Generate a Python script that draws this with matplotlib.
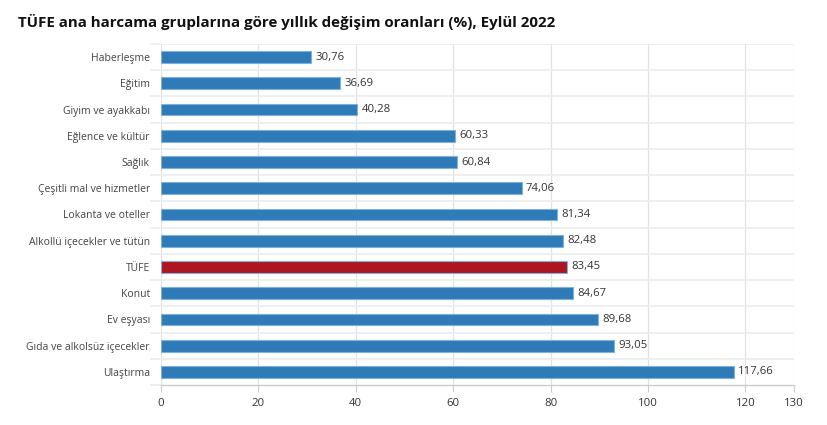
import matplotlib
matplotlib.use("Agg")
import matplotlib.pyplot as plt

title = "TÜFE ana harcama gruplarına göre yıllık değişim oranları (%), Eylül 2022"
categories = ["Haberleşme", "Eğitim", "Giyim ve ayakkabı", "Eğlence ve kültür", "Sağlık",
              "Çeşitli mal ve hizmetler", "Lokanta ve oteller", "Alkollü içecekler ve tütün",
              "TÜFE", "Konut", "Ev eşyası", "Gıda ve alkolsüz içecekler", "Ulaştırma"]
values = [30.76, 36.69, 40.28, 60.33, 60.84, 74.06, 81.34, 82.48, 83.45, 84.67, 89.68, 93.05, 117.66]
xticks = [0, 20, 40, 60, 80, 100, 120, 130]

plt.rcParams['font.family'] = ['Open Sans', 'DejaVu Sans']

fig = plt.figure(figsize=(8.28, 4.25), dpi=100)
ax = fig.add_axes([0.1944, 0.0941, 0.959 - 0.1944, 0.8965 - 0.0941])

n = len(categories)
ypos = list(range(n))
colors = ['#ad1520' if c == "TÜFE" else '#2f7bb8' for c in categories]
ax.barh(ypos, values, height=0.45, color=colors, edgecolor='#7fb1df', linewidth=0.8, zorder=3)

for y, v in zip(ypos, values):
    ax.text(v + 0.9, y, f"{v:.2f}".replace('.', ','), va='center', ha='left',
            fontsize=8.2, color='#333333', zorder=4)

ax.set_xlim(0, 130)
ax.set_ylim(n - 0.5, -0.5)
ax.set_yticks(ypos)
ax.set_yticklabels(categories, fontsize=7.5, color='#444444')
ax.set_xticks(xticks)
ax.set_xticklabels([str(t) for t in xticks], fontsize=8.2, color='#333333')

# gridlines
for t in xticks:
    ax.axvline(t, color='#e2e2e2', linewidth=0.9, zorder=0)
for i in range(n):
    ax.axhline(i - 0.5, color='#ececec', linewidth=1.2, zorder=0)

for s in ['top', 'right', 'left']:
    ax.spines[s].set_visible(False)
ax.spines['bottom'].set_color('#cccccc')
ax.spines['bottom'].set_linewidth(1.0)
ax.tick_params(axis='y', length=0, pad=8)
ax.tick_params(axis='x', length=5, color='#cccccc', pad=4)

# category separator ticks extending left
ax.set_yticks([i - 0.5 for i in range(n + 1)], minor=True)
ax.tick_params(axis='y', which='minor', length=8, color='#ececec', width=1.2)

fig.text(0.022, 0.948, title, fontsize=10.9, fontweight='bold', color='#111111',
         ha='left', va='center')

fig.savefig("out.png", dpi=100, facecolor='white')
